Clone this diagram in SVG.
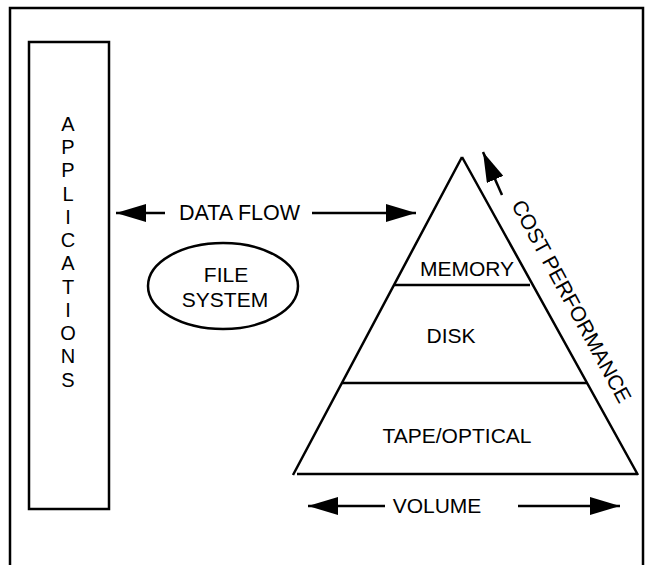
<svg xmlns="http://www.w3.org/2000/svg" width="654" height="565" viewBox="0 0 654 565">
<style>
.ln{stroke:#000;stroke-width:2.5;fill:none}
.t{font-family:"Liberation Sans",Arial,sans-serif;font-size:21px;fill:#000}
.m{text-anchor:middle}
</style>
<defs>
<marker id="ah" viewBox="0 0 30 18" refX="30" refY="9" markerWidth="30" markerHeight="18" markerUnits="userSpaceOnUse" orient="auto-start-reverse">
<path d="M0,0 L30,9 L0,18 Z" fill="#000"/>
</marker>
</defs>
<rect width="654" height="565" fill="#fff"/>
<g id="frame"><rect x="10" y="8" width="633" height="570" class="ln"/></g>
<g id="applications">
<rect x="29" y="42" width="80" height="467" class="ln"/>
<g class="t m" style="font-size:20px">
<text x="68" y="131">A</text>
<text x="68" y="154">P</text>
<text x="68" y="177">P</text>
<text x="68" y="201">L</text>
<text x="68" y="224">I</text>
<text x="68" y="247">C</text>
<text x="68" y="270">A</text>
<text x="68" y="294">T</text>
<text x="68" y="317">I</text>
<text x="68" y="340">O</text>
<text x="68" y="363">N</text>
<text x="68" y="387">S</text>
</g>
</g>
<g id="filesystem">
<ellipse cx="223" cy="286" rx="75" ry="43" class="ln"/>
<text class="t m" x="226" y="282">FILE</text>
<text class="t m" x="225" y="307">SYSTEM</text>
</g>
<g id="pyramid">
<path d="M462,157 L293,475 M462,157 L638,475 M297,474 L638,474" class="ln"/>
<line x1="394" y1="285" x2="530" y2="285" class="ln"/>
<line x1="342" y1="383" x2="587" y2="383" class="ln"/>
<text class="t m" x="467" y="276">MEMORY</text>
<text class="t m" x="451" y="343">DISK</text>
<text class="t m" x="457" y="443">TAPE/OPTICAL</text>
</g>
<g id="connectors">
<line x1="165" y1="213" x2="116" y2="213" class="ln" marker-end="url(#ah)"/>
<line x1="312" y1="213" x2="416" y2="213" class="ln" marker-end="url(#ah)"/>
<line x1="385" y1="506" x2="308" y2="506" class="ln" marker-end="url(#ah)"/>
<line x1="518" y1="506" x2="620" y2="506" class="ln" marker-end="url(#ah)"/>
<line x1="502" y1="195" x2="483" y2="152" class="ln" marker-end="url(#ah)"/>
</g>
<text class="t" x="179" y="220" style="font-size:21.5px">DATA FLOW</text>
<text class="t m" x="437" y="513">VOLUME</text>
<text class="t" transform="translate(511,205) rotate(61.5)">COST PERFORMANCE</text>
</svg>
